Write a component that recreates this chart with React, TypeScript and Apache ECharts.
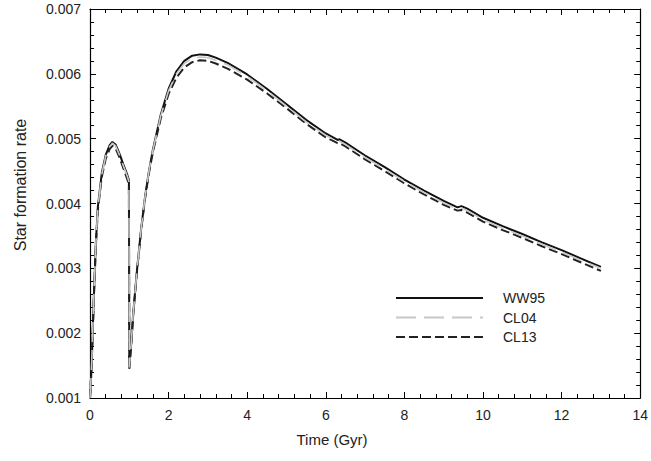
import React, { useEffect, useRef } from "react";
import * as echarts from "echarts";

const times = [0, 0.03, 0.06, 0.1, 0.15, 0.2, 0.3, 0.4, 0.5, 0.57, 0.65, 0.75, 0.85, 0.95, 0.99, 1.0, 1.05, 1.1, 1.2, 1.3, 1.4, 1.5, 1.6, 1.8, 2.0, 2.2, 2.4, 2.6, 2.8, 3.0, 3.2, 3.5, 4.0, 4.5, 5.0, 5.5, 6.0, 6.3, 6.35, 6.5, 7.0, 7.5, 8.0, 8.5, 9.0, 9.35, 9.45, 9.6, 10.0, 10.5, 11.0, 11.5, 12.0, 12.5, 13.0];

const ww95 = [0.00100, 0.00135, 0.00185, 0.00260, 0.00340, 0.00395, 0.00447, 0.00475, 0.00490, 0.00495, 0.00491, 0.00477, 0.00460, 0.00444, 0.00436, 0.00147, 0.00185, 0.00231, 0.00300, 0.00360, 0.00410, 0.00450, 0.00483, 0.00537, 0.00577, 0.00604, 0.00620, 0.00628, 0.00630, 0.00629, 0.00625, 0.00617, 0.00599, 0.00577, 0.00553, 0.00529, 0.00508, 0.00498, 0.00499, 0.00494, 0.00474, 0.00456, 0.00437, 0.00420, 0.00404, 0.00394, 0.00396, 0.00392, 0.00378, 0.00365, 0.00353, 0.00340, 0.00328, 0.00315, 0.00302];

const cl04 = [0.00100, 0.00135, 0.00185, 0.00260, 0.00340, 0.00394, 0.00445, 0.00473, 0.00488, 0.00493, 0.00489, 0.00475, 0.00458, 0.00442, 0.00434, 0.00147, 0.00185, 0.00231, 0.00300, 0.00360, 0.00410, 0.00450, 0.00482, 0.00535, 0.00574, 0.00600, 0.00616, 0.00624, 0.00626, 0.00625, 0.00621, 0.00614, 0.00596, 0.00574, 0.00550, 0.00526, 0.00505, 0.00495, 0.00496, 0.00491, 0.00471, 0.00453, 0.00434, 0.00417, 0.00401, 0.00391, 0.00393, 0.00389, 0.00375, 0.00362, 0.00350, 0.00337, 0.00325, 0.00312, 0.00300];

const cl13 = [0.00100, 0.00134, 0.00183, 0.00257, 0.00336, 0.00390, 0.00441, 0.00469, 0.00484, 0.00489, 0.00485, 0.00471, 0.00454, 0.00437, 0.00429, 0.00145, 0.00183, 0.00229, 0.00298, 0.00358, 0.00407, 0.00447, 0.00479, 0.00531, 0.00569, 0.00594, 0.00610, 0.00618, 0.00621, 0.00620, 0.00616, 0.00608, 0.00591, 0.00570, 0.00547, 0.00523, 0.00502, 0.00493, 0.00493, 0.00488, 0.00468, 0.00450, 0.00431, 0.00414, 0.00398, 0.00389, 0.00390, 0.00386, 0.00372, 0.00359, 0.00347, 0.00334, 0.00322, 0.00309, 0.00296];

const seriesNames = ["WW95", "CL04", "CL13"];
const xTitle = "Time (Gyr)";
const yTitle = "Star formation rate";

const FONT = "'Liberation Sans', Arial, sans-serif";
const TXT = "#222";

function pairs(vals: number[]) {
  return times.map((t, i) => [t, vals[i]]);
}

export default function App() {
  const ref = useRef<HTMLDivElement>(null);
  useEffect(() => {
    document.body.style.margin = "0";
    if (!ref.current) return;
    const chart = echarts.init(ref.current, null, { renderer: "svg" });
    const axisCommon = {
      axisLine: { show: true, onZero: false, lineStyle: { color: "#000", width: 1.2 } },
      axisTick: { show: true, inside: true, length: 6, lineStyle: { color: "#000" } },
      minorTick: { show: true, splitNumber: 5, length: 4, lineStyle: { color: "#000" } },
      splitLine: { show: false },
      minorSplitLine: { show: false },
    };
    const lineCommon = { type: "line", symbol: "none", showSymbol: false, smooth: false };
    chart.setOption({
      animation: false,
      backgroundColor: "#fff",
      grid: { left: 90, right: 7, top: 9, bottom: 63, containLabel: false },
      xAxis: [
        {
          type: "value", min: 0, max: 14, interval: 2, position: "bottom",
          ...axisCommon,
          axisLabel: { color: TXT, fontSize: 14, fontFamily: FONT, margin: 10 },
        },
        {
          type: "value", min: 0, max: 14, interval: 2, position: "top",
          ...axisCommon,
          axisLabel: { show: false },
        },
      ],
      yAxis: [
        {
          type: "value", min: 0.001, max: 0.007, interval: 0.001, position: "left",
          ...axisCommon,
          axisLabel: {
            color: TXT, fontSize: 14, fontFamily: FONT, margin: 9,
            formatter: (v: number) => v.toFixed(3),
          },
        },
        {
          type: "value", min: 0.001, max: 0.007, interval: 0.001, position: "right",
          ...axisCommon,
          axisLabel: { show: false },
        },
      ],
      legend: {
        data: seriesNames,
        orient: "vertical",
        left: 395,
        top: 291,
        padding: 0,
        itemWidth: 87,
        itemHeight: 14,
        itemGap: 5.5,
        itemStyle: { opacity: 0 },
        textStyle: { color: TXT, fontSize: 14, fontFamily: FONT, padding: [0, 0, 0, 15] },
      },
      graphic: [
        {
          type: "text", x: 332, y: 439,
          style: { text: xTitle, fill: TXT, font: `15px ${FONT}`, textAlign: "center", textVerticalAlign: "middle" },
        },
        {
          type: "text", x: 20, y: 185, rotation: Math.PI / 2,
          style: { text: yTitle, fill: TXT, font: `16px ${FONT}`, textAlign: "center", textVerticalAlign: "middle" },
        },
      ],
      series: [
        {
          ...lineCommon, name: "WW95", data: pairs(ww95),
          lineStyle: { color: "#111", width: 2, type: "solid" }, itemStyle: { color: "#111" }, z: 2,
        },
        {
          ...lineCommon, name: "CL13", data: pairs(cl13),
          lineStyle: { color: "#222", width: 2, type: [9, 4] }, itemStyle: { color: "#222" }, z: 3,
        },
        {
          ...lineCommon, name: "CL04", data: pairs(cl04),
          lineStyle: { color: "#c8c8c8", width: 1.6, type: [20, 8] }, itemStyle: { color: "#c8c8c8" }, z: 4,
        },
      ],
    });
    return () => chart.dispose();
  }, []);
  return <div ref={ref} style={{ width: 651, height: 461 }} />;
}
